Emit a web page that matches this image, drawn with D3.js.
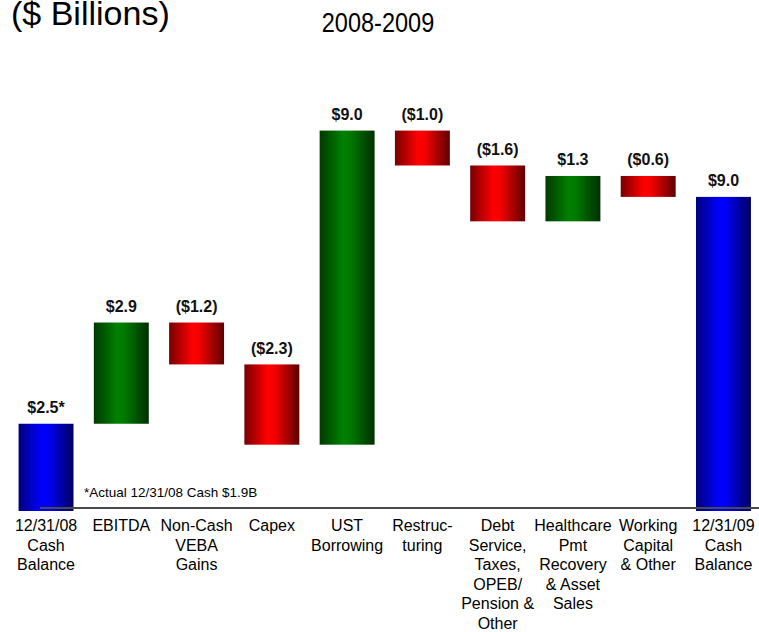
<!DOCTYPE html>
<html>
<head>
<meta charset="utf-8">
<script src="https://cdn.jsdelivr.net/npm/d3@7"></script>
<style>
  html, body { margin: 0; padding: 0; background: #fff; }
  svg { display: block; font-family: Arial, "Liberation Sans", Helvetica, sans-serif; }
</style>
</head>
<body>
<svg id="chart" width="759" height="632"></svg>
<script>
// Cash walk components, $ billions
const categories = [
  ["12/31/08", "Cash", "Balance"],
  ["EBITDA"],
  ["Non-Cash", "VEBA", "Gains"],
  ["Capex"],
  ["UST", "Borrowing"],
  ["Restruc-", "turing"],
  ["Debt", "Service,", "Taxes,", "OPEB/", "Pension &", "Other"],
  ["Healthcare", "Pmt", "Recovery", "& Asset", "Sales"],
  ["Working", "Capital", "& Other"],
  ["12/31/09", "Cash", "Balance"]
];
const values = [2.5, 2.9, -1.2, -2.3, 9.0, -1.0, -1.6, 1.3, -0.6, 9.0];
const kinds = ["total", "delta", "delta", "delta", "delta", "delta", "delta", "delta", "delta", "total"];
const labelSuffix = ["*", "", "", "", "", "", "", "", "", ""];
const footnote = "*Actual 12/31/08 Cash $1.9B";

const svg = d3.select("#chart");
const W = 759;

// running totals -> floating segments
let running = 0;
const bars = values.map((v, i) => {
  let y0, y1;
  if (kinds[i] === "total") { y0 = 0; y1 = v; running = v; }
  else { y0 = running; y1 = running + v; running = y1; }
  return { i, v, kind: kinds[i], lo: Math.min(y0, y1), hi: Math.max(y0, y1) };
});

const x = d3.scaleBand()
  .domain(d3.range(values.length))
  .range([8.4, 761.1])
  .paddingInner(0.27)
  .paddingOuter(0.135);

const y = d3.scaleLinear().domain([0, 12]).range([511, 511 - 12 * 34.9]);

// horizontal shading for each bar colour
const defs = svg.append("defs");
const shades = {
  blue:  ["#00007e", "#0000ff", "#0000f4", "#000062"],
  green: ["#003a00", "#008000", "#007a00", "#002e00"],
  red:   ["#780000", "#ff0000", "#f40000", "#5e0000"]
};
Object.entries(shades).forEach(([name, c]) => {
  const g = defs.append("linearGradient").attr("id", "grad-" + name)
    .attr("x1", "0%").attr("x2", "100%").attr("y1", "0%").attr("y2", "0%");
  [[0, c[0]], [0.42, c[1]], [0.55, c[2]], [1, c[3]]].forEach(([o, col]) =>
    g.append("stop").attr("offset", o).attr("stop-color", col));
});
const fillOf = d => d.kind === "total" ? "url(#grad-blue)" : (d.v >= 0 ? "url(#grad-green)" : "url(#grad-red)");

svg.append("g").selectAll("rect").data(bars).join("rect")
  .attr("x", d => x(d.i))
  .attr("width", x.bandwidth())
  .attr("y", d => y(d.hi))
  .attr("height", d => y(d.lo) - y(d.hi))
  .attr("fill", fillOf);

// baseline rule
svg.append("line")
  .attr("x1", 40).attr("x2", W)
  .attr("y1", y(0) - 3).attr("y2", y(0) - 3)
  .attr("stroke", "#4a4a4a").attr("stroke-width", 2);

// value labels
const fmt = d3.format(".1f");
const valueText = d => (d.v < 0 ? "($" + fmt(-d.v) + ")" : "$" + fmt(d.v)) + labelSuffix[d.i];
svg.append("g").selectAll("text").data(bars).join("text")
  .attr("x", d => x(d.i) + x.bandwidth() / 2)
  .attr("y", d => y(d.hi) - 10.5)
  .attr("text-anchor", "middle")
  .attr("font-size", 16)
  .attr("font-weight", "bold")
  .attr("fill", "#111")
  .text(valueText);

// category labels
const cat = svg.append("g").selectAll("text").data(categories).join("text")
  .attr("text-anchor", "middle")
  .attr("font-size", 16)
  .attr("fill", "#000");
cat.each(function (lines, i) {
  const cx = x(i) + x.bandwidth() / 2;
  d3.select(this).selectAll("tspan").data(lines).join("tspan")
    .attr("x", cx)
    .attr("y", (l, k) => 531 + k * 19.6)
    .text(l => l);
});

// footnote
svg.append("text")
  .attr("x", 84).attr("y", 497)
  .attr("font-size", 13.5)
  .attr("fill", "#000")
  .text(footnote);

// headings
svg.append("text")
  .attr("x", 11).attr("y", 25)
  .attr("font-size", 34)
  .attr("fill", "#000")
  .text("($ Billions)");

svg.append("text")
  .attr("transform", "translate(378,32) scale(0.84,1)")
  .attr("text-anchor", "middle")
  .attr("font-size", 28)
  .attr("fill", "#000")
  .text("2008-2009");
</script>
</body>
</html>
